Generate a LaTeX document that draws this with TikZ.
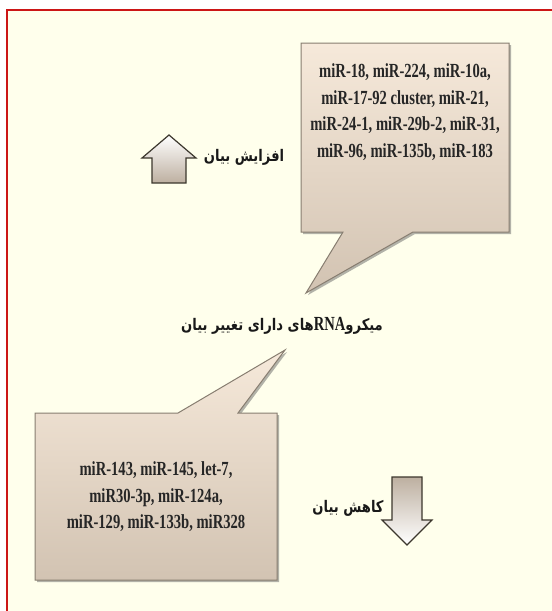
\documentclass[tikz,border=0pt]{standalone}
\usepackage{fontspec}
\setmainfont{Liberation Serif}[FakeStretch=0.73]
\newfontfamily\persianfont[Script=Arabic,FakeStretch=0.82]{DejaVu Sans}
\TeXXeTstate=1
\usetikzlibrary{shadows}

\begin{document}
\begin{tikzpicture}[x=1pt,y=-1pt,
frame/.style={line width=2pt, framered},
calloutbox/.style={draw=boxline, line width=1pt, top color=boxtop, bottom color=boxbottom,
  drop shadow={shadow xshift=2pt, shadow yshift=-2pt, fill=black!60, opacity=.5}},
mirlist/.style={font=\fontsize{20}{26.5}\selectfont\bfseries, align=center, text=black!85},
persian/.style={font=\persianfont\fontsize{16}{18}\selectfont\bfseries, text=black!90},
uparrow/.style={draw=arrowline, line width=1.2pt, top color=white, bottom color=boxbottom!90!black},
downarrow/.style={draw=arrowline, line width=1.2pt, top color=boxbottom!90!black, bottom color=white}]

\definecolor{framered}{RGB}{204,22,22}
\definecolor{cream}{RGB}{255,255,236}
\definecolor{boxtop}{RGB}{246,233,218}
\definecolor{boxbottom}{RGB}{210,195,178}
\definecolor{boxline}{RGB}{135,125,112}
\definecolor{arrowline}{RGB}{60,55,45}

\useasboundingbox (0,0) rectangle (552,611);
\fill[cream] (7,10) rectangle (552,611);
\draw[frame] (7,611) |- (552,10);

% Up callout
\path[calloutbox] (301,43) -- (509,43) -- (509,232) -- (413,232) -- (306,293)
  -- (343,232) -- (301,232) -- cycle;
\node[mirlist] (uplist) at (405,112)
  {miR-18, miR-224, miR-10a,\\miR-17-92 cluster, miR-21,\\miR-24-1, miR-29b-2, miR-31,\\miR-96, miR-135b, miR-183};

% Down callout
\path[calloutbox] (35,413) -- (178,413) -- (285,350) -- (238,413) -- (277,413)
  -- (277,580) -- (35,580) -- cycle;
\node[mirlist] (downlist) at (156,497)
  {miR-143, miR-145, let-7,\\miR30-3p, miR-124a,\\miR-129, miR-133b, miR328};

% Arrows
\path[uparrow] (169,135) -- (196,158) -- (186,158) -- (186,183) -- (152,183)
  -- (152,158) -- (142,158) -- cycle;
\path[downarrow] (407,545) -- (432,520) -- (422,520) -- (422,477) -- (392,477)
  -- (392,520) -- (382,520) -- cycle;

\node[persian] (upl) at (244,157) {\beginR افزایش بیان\endR};
\node[persian] (downl) at (348,508) {\beginR کاهش بیان\endR};
\node[persian] (mirna) at (282,326)
  {\beginR میکرو\beginL{\rmfamily\fontsize{20}{20}\selectfont RNA}\endL های دارای تغییر بیان\endR};

\end{tikzpicture}
\end{document}
